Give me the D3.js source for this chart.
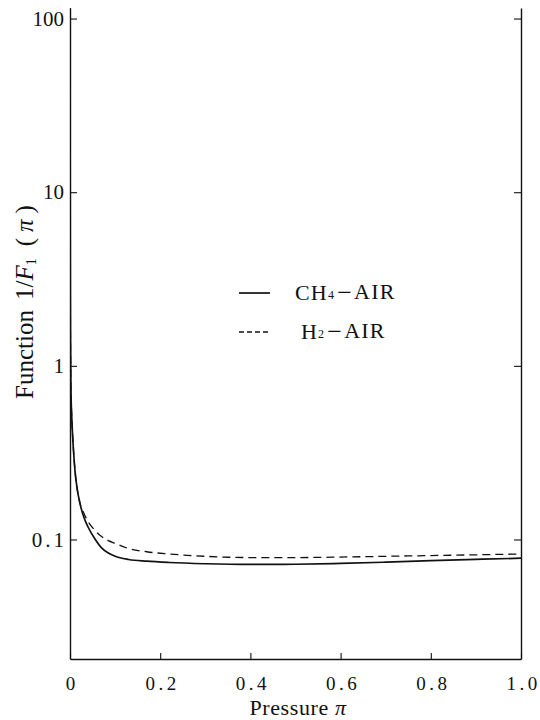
<!DOCTYPE html>
<html>
<head>
<meta charset="utf-8">
<script src="https://cdn.jsdelivr.net/npm/d3@7"></script>
<style>
  html, body { margin: 0; padding: 0; background: #fff; }
  svg { display: block; }
  text { font-family: "Liberation Serif", "DejaVu Serif", serif; fill: #111; }
</style>
</head>
<body>
<svg id="chart" width="540" height="720"></svg>
<script>
// ---- data ----
const pressure = [0.00005, 0.0001, 0.0003, 0.0006, 0.001, 0.002, 0.004, 0.007, 0.011, 0.016, 0.022,
                  0.03, 0.04, 0.055, 0.07, 0.085, 0.1, 0.13, 0.17, 0.22, 0.3, 0.4, 0.5, 0.6, 0.7, 0.8, 0.9, 1.0];
const ch4Air = [400, 150, 20, 4, 1.5, 0.75, 0.5, 0.35, 0.25, 0.195, 0.162,
                0.136, 0.118, 0.101, 0.0895, 0.0835, 0.080, 0.0767, 0.0750, 0.0737, 0.0725, 0.0718, 0.0720, 0.0728, 0.0740, 0.0755, 0.0768, 0.0780];
const h2Air  = [400, 150, 20, 4, 1.5, 0.75, 0.5, 0.35, 0.25, 0.195, 0.162,
                0.143, 0.127, 0.113, 0.104, 0.0985, 0.0950, 0.0887, 0.0850, 0.0825, 0.0800, 0.0787, 0.0787, 0.0792, 0.0800, 0.0808, 0.0816, 0.0825];
const xTicks = [0, 0.2, 0.4, 0.6, 0.8, 1.0];
const xTickLabels = ["0", "0.2", "0.4", "0.6", "0.8", "1.0"];
const yTicks = [0.1, 1, 10, 100];
const yTickLabels = ["0.1", "1", "10", "100"];
const seriesNames = ["CH", "H"];
const seriesSubs = ["4", "2"];

// ---- layout ----
const svg = d3.select("#chart");
const mLeft = 70, mRight = 521, mTop = 8, mBottom = 659;
const x = d3.scaleLinear().domain([0, 1]).range([mLeft, mRight]);
const y = d3.scaleLog().domain([0.0205, 115]).range([mBottom, mTop]);

svg.append("defs").append("clipPath").attr("id", "clip")
  .append("rect").attr("x", mLeft).attr("y", mTop).attr("width", mRight - mLeft).attr("height", mBottom - mTop);

// axes
const axLeft = svg.append("g").attr("transform", `translate(${mLeft},0)`)
  .call(d3.axisLeft(y).tickValues(yTicks).tickSizeInner(-7).tickSizeOuter(0).tickPadding(6)
        .tickFormat((d, i) => yTickLabels[i]));
const axRight = svg.append("g").attr("transform", `translate(${mRight},0)`)
  .call(d3.axisRight(y).tickValues(yTicks).tickSizeInner(-7).tickSizeOuter(0).tickFormat(""));
const axBottom = svg.append("g").attr("transform", `translate(0,${mBottom})`)
  .call(d3.axisBottom(x).tickValues(xTicks).tickSizeInner(-6).tickSizeOuter(0).tickPadding(18)
        .tickFormat((d, i) => xTickLabels[i]));

[axLeft, axRight, axBottom].forEach(g => {
  g.select(".domain").attr("stroke", "#111").attr("stroke-width", 1.4);
  g.selectAll(".tick line").attr("stroke", "#111").attr("stroke-width", 1.1);
  g.selectAll("text").style("font-family", '"Liberation Serif", serif').attr("fill", "#111");
});
axLeft.selectAll("text").attr("font-size", 21)
  .attr("letter-spacing", d => (d < 1 ? 3 : 0))
  .attr("dx", d => (d < 1 ? 3 : 0));
axBottom.selectAll("text").attr("font-size", 19)
  .attr("letter-spacing", d => (d === 0 ? 0 : 3.5))
  .attr("dx", d => (d === 0 ? 0 : 2));

// curves
const line = d3.line().x(d => x(d[0])).y(d => y(d[1])).curve(d3.curveMonotoneX);
const plot = svg.append("g").attr("clip-path", "url(#clip)");
plot.append("path").datum(pressure.map((p, i) => [p, h2Air[i]]))
  .attr("d", line).attr("fill", "none").attr("stroke", "#111")
  .attr("stroke-width", 1.3).attr("stroke-dasharray", "8,5");
plot.append("path").datum(pressure.map((p, i) => [p, ch4Air[i]]))
  .attr("d", line).attr("fill", "none").attr("stroke", "#111")
  .attr("stroke-width", 1.7);

// legend
const lg = svg.append("g");
const legendRows = [
  { y: 300, lineY: 293, tx: 295, dash: null, w: 1.7 },
  { y: 339, lineY: 332, tx: 301, dash: "5,3", w: 1.3 }
];
legendRows.forEach((r, i) => {
  lg.append("line").attr("x1", 239).attr("x2", 270).attr("y1", r.lineY).attr("y2", r.lineY)
    .attr("stroke", "#111").attr("stroke-width", r.w).attr("stroke-dasharray", r.dash);
  const t = lg.append("text").attr("x", r.tx).attr("y", r.y).attr("font-size", 22).attr("letter-spacing", 1.2);
  t.append("tspan").text(seriesNames[i]);
  t.append("tspan").attr("font-size", 12).attr("dx", 0).attr("dy", -1).text(seriesSubs[i]);
  t.append("tspan").attr("dx", 2).attr("dy", 1).attr("font-size", 26).attr("dy", 2).text("−");
  t.append("tspan").attr("dx", 1).attr("dy", -2).text("AIR");
});

// axis titles
const xt = svg.append("text").attr("x", 298).attr("y", 715).attr("text-anchor", "middle").attr("font-size", 22)
  .attr("letter-spacing", 0.6);
xt.append("tspan").text("Pressure ");
xt.append("tspan").attr("font-style", "italic").text("π");

const yt = svg.append("text").attr("transform", "translate(33,302) rotate(-90)")
  .attr("text-anchor", "middle").attr("font-size", 25);
yt.append("tspan").text("Function");
yt.append("tspan").attr("dx", 10).text("1/");
yt.append("tspan").attr("font-style", "italic").text("F");
yt.append("tspan").attr("font-size", 14).attr("dy", 3).text("1");
yt.append("tspan").attr("dy", -3).attr("dx", 12).text("(");
yt.append("tspan").attr("dx", 6).attr("font-style", "italic").text("π");
yt.append("tspan").attr("dx", 6).text(")");
</script>
</body>
</html>
